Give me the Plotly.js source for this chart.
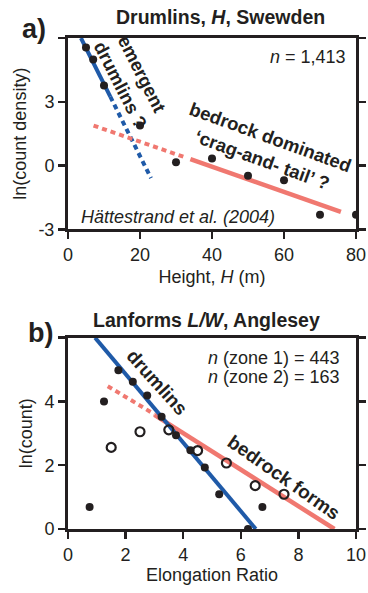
<!DOCTYPE html>
<html>
<head>
<meta charset="utf-8">
<script src="https://cdn.plot.ly/plotly-3.0.1.min.js"></script>
<style>html,body{margin:0;padding:0;background:#fff;}#chart{width:368px;height:593px;}</style>
</head>
<body>
<div id="chart"></div>
<script>
// ---- Panel a data: drumlin heights, Sweden ----
const heightX = [5, 7, 10, 20, 30, 40, 50, 60, 70, 80];
const heightLnDensity = [5.55, 4.99, 3.77, 1.88, 0.16, 0.33, -0.48, -0.69, -2.31, -2.31];
const emergentSolidX = [3.6, 11.75];
const emergentSolidY = [6.0, 3.24];
const emergentDotX = [11.75, 23.05];
const emergentDotY = [3.24, -0.59];
const cragDotX = [7.1, 32.6];
const cragDotY = [1.88, 0.38];
const cragSolidX = [34, 75.8];
const cragSolidY = [0.3, -2.18];
const aTickVals = [-3, 0, 3, 6];
const aTickText = ['-3', '0', '3', ''];
const aXTicks = [0, 20, 40, 60, 80];

// ---- Panel b data: landform elongation, Anglesey ----
const zone1X = [0.75, 1.25, 1.75, 2.25, 2.75, 3.25, 3.75, 4.25, 4.75, 5.25, 6.25, 6.75];
const zone1Y = [0.69, 4.0, 4.98, 4.62, 4.19, 3.52, 2.94, 2.47, 1.93, 1.09, 0.0, 0.69];
const zone2X = [1.5, 2.5, 3.5, 4.5, 5.5, 6.5, 7.5];
const zone2Y = [2.56, 3.05, 3.11, 2.46, 2.07, 1.36, 1.09];
const drumlinFitX = [0.94, 6.52];
const drumlinFitY = [6.0, 0.0];
const bedrockDotX = [1.38, 3.0];
const bedrockDotY = [4.48, 3.6];
const bedrockSolidX = [3.0, 9.25];
const bedrockSolidY = [3.58, 0.0];
const bTickVals = [0, 2, 4, 6];
const bTickText = ['0', '2', '4', ''];
const bXTicks = [0, 2, 4, 6, 8, 10];

const INK = '#231f20';
const BLUE = '#1f5aa8';
const SALMON = '#f07870';
const FONT = 'Liberation Sans, Arial, Helvetica, sans-serif';

const W = 368, H = 593, L = 68, R = 12, T = 38, B = 64;
const px = x => (x - L) / (W - L - R);
const py = y => (H - B - y) / (H - T - B);

function line(x, y, color, dash, xa, ya, w) {
  return {x: x, y: y, xaxis: xa, yaxis: ya, type: 'scatter', mode: 'lines',
    line: {color: color, width: w || 4, dash: dash || 'solid'}, hoverinfo: 'skip'};
}

const data = [
  line(emergentDotX, emergentDotY, BLUE, '5px,4px', 'x', 'y'),
  line(emergentSolidX, emergentSolidY, BLUE, 'solid', 'x', 'y'),
  line(cragDotX, cragDotY, SALMON, '5px,4px', 'x', 'y'),
  line(cragSolidX, cragSolidY, SALMON, 'solid', 'x', 'y', 4.5),
  {x: heightX, y: heightLnDensity, xaxis: 'x', yaxis: 'y', type: 'scatter', mode: 'markers',
    marker: {color: INK, size: 8}},
  line(bedrockDotX, bedrockDotY, SALMON, '5px,4px', 'x2', 'y2'),
  line(bedrockSolidX, bedrockSolidY, SALMON, 'solid', 'x2', 'y2', 4.5),
  line(drumlinFitX, drumlinFitY, BLUE, 'solid', 'x2', 'y2'),
  {x: zone1X, y: zone1Y, xaxis: 'x2', yaxis: 'y2', type: 'scatter', mode: 'markers',
    marker: {color: INK, size: 8}},
  {x: zone2X, y: zone2Y, xaxis: 'x2', yaxis: 'y2', type: 'scatter', mode: 'markers',
    marker: {symbol: 'circle-open', color: INK, size: 9, line: {width: 2.2, color: INK}}}
];

const axCommon = {
  showgrid: false, zeroline: false, showline: true, linecolor: INK, linewidth: 3,
  ticks: 'outside', ticklen: 7, tickwidth: 2.5, tickcolor: INK,
  tickfont: {family: FONT, size: 18, color: INK}
};

const xRangeA = [0, 80], yRangeA = [-3, 6], xRangeB = [0, 10], yRangeB = [0, 6];

function corner(xref, yref, xv, yv) {
  return {type: 'line', xref: xref, yref: yref, xsizemode: 'pixel', ysizemode: 'pixel',
    xanchor: xv, yanchor: yv, x0: 0, x1: 0, y0: 0, y1: 7, line: {color: INK, width: 2.5}};
}

const layout = {
  width: W, height: H,
  margin: {l: L, r: R, t: T, b: B},
  paper_bgcolor: '#fff', plot_bgcolor: '#fff',
  showlegend: false,
  font: {family: FONT, size: 18, color: INK},
  xaxis: Object.assign({}, axCommon, {domain: [0, 1], anchor: 'y', range: xRangeA, mirror: true,
    tickvals: aXTicks, title: {text: 'Height, <i>H</i> (m)', font: {size: 18, family: FONT, color: INK}, standoff: 7}}),
  yaxis: Object.assign({}, axCommon, {domain: [0.6104, 1], anchor: 'x', range: yRangeA, mirror: 'ticks',
    tickvals: aTickVals, ticktext: aTickText,
    title: {text: 'ln(count density)', font: {size: 18, family: FONT, color: INK}, standoff: 8}}),
  xaxis2: Object.assign({}, axCommon, {domain: [0, 1], anchor: 'y2', range: xRangeB, mirror: true,
    tickvals: bXTicks}),
  yaxis2: Object.assign({}, axCommon, {domain: [0, 0.3896], anchor: 'x2', range: yRangeB, mirror: 'ticks',
    tickvals: bTickVals, ticktext: bTickText,
    title: {text: 'ln(count)', font: {size: 18, family: FONT, color: INK}, standoff: 8}}),
  shapes: [
    corner('x', 'y', xRangeA[0], yRangeA[1]),
    corner('x', 'y', xRangeA[1], yRangeA[1]),
    corner('x2', 'y2', xRangeB[0], yRangeB[1]),
    corner('x2', 'y2', xRangeB[1], yRangeB[1])
  ],
  annotations: [
    {xref: 'paper', yref: 'paper', x: px(33.5), y: py(29), text: '<b>a)</b>', showarrow: false,
      font: {size: 27, family: FONT, color: INK}, xanchor: 'center', yanchor: 'middle'},
    {xref: 'paper', yref: 'paper', x: px(220), y: py(17), text: '<b>Drumlins, <i>H</i>, Swewden</b>', showarrow: false,
      font: {size: 19.5, family: FONT, color: INK}, xanchor: 'center', yanchor: 'middle'},
    {xref: 'x', yref: 'y', x: 77.9, y: 5.1, text: '<i>n</i> = 1,413', showarrow: false,
      font: {size: 18, family: FONT, color: INK}, xanchor: 'right', yanchor: 'middle'},
    {xref: 'x', yref: 'y', x: 3.1, y: -2.41, text: '<i>Hättestrand et al. (2004)</i>', showarrow: false,
      font: {size: 18, family: FONT, color: INK}, xanchor: 'left', yanchor: 'middle'},
    {xref: 'x', yref: 'y', x: 17.6, y: 4.05, text: '<b>emergent<br>drumlins ?</b>', showarrow: false, textangle: 63,
      font: {size: 18.5, family: FONT, color: INK}, xanchor: 'center', yanchor: 'middle', align: 'center'},
    {xref: 'x', yref: 'y', x: 55.1, y: 0.8, text: '<b>bedrock dominated<br>‘crag-and- tail’ ?</b>', showarrow: false, textangle: 20,
      font: {size: 18.5, family: FONT, color: INK}, xanchor: 'center', yanchor: 'middle', align: 'center'},
    {xref: 'paper', yref: 'paper', x: px(40), y: py(333), text: '<b>b)</b>', showarrow: false,
      font: {size: 27, family: FONT, color: INK}, xanchor: 'center', yanchor: 'middle'},
    {xref: 'paper', yref: 'paper', x: px(206), y: py(320), text: '<b>Lanforms <i>L/W</i>, Anglesey</b>', showarrow: false,
      font: {size: 19.5, family: FONT, color: INK}, xanchor: 'center', yanchor: 'middle'},
    {xref: 'paper', yref: 'paper', x: px(212), y: py(575), text: 'Elongation Ratio', showarrow: false,
      font: {size: 18, family: FONT, color: INK}, xanchor: 'center', yanchor: 'middle'},
    {xref: 'x2', yref: 'y2', x: 9.5, y: 5.37, text: '<i>n</i> (zone 1) = 443', showarrow: false,
      font: {size: 18, family: FONT, color: INK}, xanchor: 'right', yanchor: 'middle'},
    {xref: 'x2', yref: 'y2', x: 9.5, y: 4.78, text: '<i>n</i> (zone 2) = 163', showarrow: false,
      font: {size: 18, family: FONT, color: INK}, xanchor: 'right', yanchor: 'middle'},
    {xref: 'x2', yref: 'y2', x: 3.1, y: 4.6, text: '<b>drumlins</b>', showarrow: false, textangle: 48,
      font: {size: 19, family: FONT, color: INK}, xanchor: 'center', yanchor: 'middle'},
    {xref: 'x2', yref: 'y2', x: 7.5, y: 1.62, text: '<b>bedrock forms</b>', showarrow: false, textangle: 35,
      font: {size: 19, family: FONT, color: INK}, xanchor: 'center', yanchor: 'middle'}
  ]
};

Plotly.newPlot('chart', data, layout, {staticPlot: true, displayModeBar: false});
</script>
</body>
</html>
